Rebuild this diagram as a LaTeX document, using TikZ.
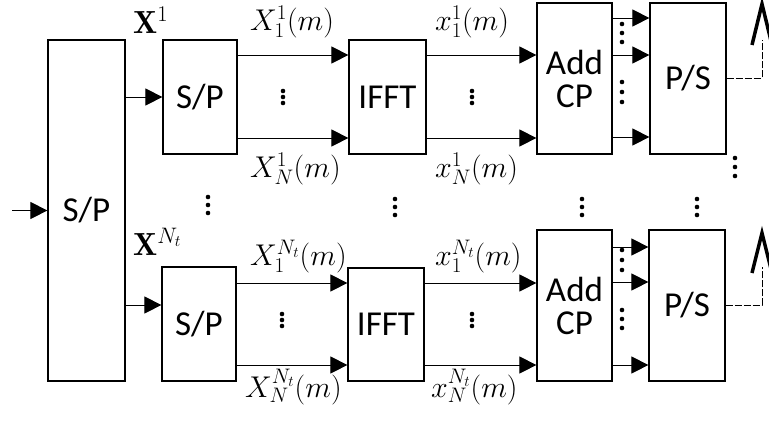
\RequirePackage{fix-cm}
\documentclass[tikz,border=0pt]{standalone}
\usepackage{fontspec}
\setsansfont{Carlito}
\usetikzlibrary{arrows.meta}
\begin{document}
\begin{tikzpicture}[x=1pt,y=-1pt,
  box/.style={draw,line width=1.2pt,inner sep=0pt,font=\sffamily\fontsize{35}{33}\selectfont,align=center},
  arr/.style={line width=0.9pt,-{Triangle[length=17pt,width=17pt]}},
  dwire/.style={line width=0.9pt,dash pattern=on 7pt off 2pt},
  ant/.style={line width=3.5pt,line join=miter},
  lbl/.style={anchor=base west,inner sep=0pt,font=\fontsize{30}{34}\selectfont},
  blbl/.style={anchor=base west,inner sep=0pt,font=\fontsize{32}{36}\selectfont},
  vd/.pic={\foreach \k in {-1,0,1} \fill (0,\k*#1) circle (2.3pt);},
  vd/.default=9]
\useasboundingbox (0,0) rectangle (769,421);

% boxes
\node[box,minimum width=77pt,minimum height=341pt] (big) at (86.5,210.5) {};
\node[font=\sffamily\fontsize{35}{33}\selectfont] (biglbl) at (86.5,210.5) {S/P};
\node[box,minimum width=74pt,minimum height=114pt] (sp1) at (200,97) {S/P};
\node[box,minimum width=77pt,minimum height=114pt] (ifft1) at (387.5,97) {IFFT};
\node[box,minimum width=75pt,minimum height=151pt] (acp1) at (574.5,78.5) {Add\\CP};
\node[box,minimum width=76pt,minimum height=151pt] (ps1) at (688,78.5) {P/S};
\node[box,minimum width=74pt,minimum height=114pt] (sp2) at (199,324) {S/P};
\node[box,minimum width=76pt,minimum height=113pt] (ifft2) at (386,324.5) {IFFT};
\node[box,minimum width=75pt,minimum height=151pt] (acp2) at (574.5,305.5) {Add\\CP};
\node[box,minimum width=76pt,minimum height=151pt] (ps2) at (687,305.5) {P/S};

% input
\coordinate (in) at (12,210.5);
\draw[arr] (in) -- (big.west);

% upper chain
\draw[arr] (big.east |- sp1.west) -- (sp1.west);
\draw[arr] (sp1.east |- 0,55) -- (ifft1.west |- 0,55);
\draw[arr] (sp1.east |- 0,138) -- (ifft1.west |- 0,138);
\draw[arr] (ifft1.east |- 0,55) -- (acp1.west |- 0,55);
\draw[arr] (ifft1.east |- 0,138) -- (acp1.west |- 0,138);
\draw[arr] (acp1.east |- 0,18) -- (ps1.west |- 0,18);
\draw[arr] (acp1.east |- 0,55) -- (ps1.west |- 0,55);
\draw[arr] (acp1.east |- 0,137) -- (ps1.west |- 0,137);
\coordinate (a1) at (762,78);
\coordinate (a1t) at (762,40);
\draw[dwire] (ps1.east |- a1) -- (a1) -- (a1t);
\draw[ant] (752,45) -- (762,4) -- (772,45);

% lower chain
\draw[arr] (big.east |- 0,305) -- (sp2.west |- 0,305);
\draw[arr] (sp2.east |- 0,283) -- (ifft2.west |- 0,283);
\draw[arr] (sp2.east |- 0,365) -- (ifft2.west |- 0,365);
\draw[arr] (ifft2.east |- 0,283) -- (acp2.west |- 0,283);
\draw[arr] (ifft2.east |- 0,365) -- (acp2.west |- 0,365);
\draw[arr] (acp2.east |- 0,247) -- (ps2.west |- 0,247);
\draw[arr] (acp2.east |- 0,282) -- (ps2.west |- 0,282);
\draw[arr] (acp2.east |- 0,365) -- (ps2.west |- 0,365);
\coordinate (a2) at (762,305);
\coordinate (a2t) at (762,267);
\draw[dwire] (ps2.east |- a2) -- (a2) -- (a2t);
\draw[ant] (752,273) -- (762,233) -- (772,273);

% labels
\node[blbl] (lx1) at (133,33) {$\mathbf{X}^{1}$};
\node[blbl] (lxn) at (133,255) {$\mathbf{X}^{N_t}$};
\node[lbl] (l1) at (250,30) {$X_1^1(m)$};
\node[lbl] (l2) at (250,177) {$X_N^1(m)$};
\node[lbl] (l3) at (435,30) {$x_1^1(m)$};
\node[lbl] (l4) at (435,177) {$x_N^1(m)$};
\node[lbl] (l5) at (250,265) {$X_1^{N_t}(m)$};
\node[lbl] (l6) at (435,265) {$x_1^{N_t}(m)$};
\node[lbl] (l7) at (245,397) {$X_N^{N_t}(m)$};
\node[lbl] (l8) at (431,397) {$x_N^{N_t}(m)$};

% dots
\pic at (283,97) {vd=6};
\pic at (472,97) {vd=6};
\pic at (622,33) {vd=9};
\pic at (622,92) {vd=10};
\pic at (208,205) {vd=8};
\pic at (395,207) {vd=8};
\pic at (582,207) {vd=8};
\pic at (697,207) {vd=8};
\pic at (735,167) {vd=9};
\pic at (282,320) {vd=6};
\pic at (472,320) {vd=6};
\pic at (622,260) {vd=10};
\pic at (622,319) {vd=9};
\end{tikzpicture}
\end{document}
